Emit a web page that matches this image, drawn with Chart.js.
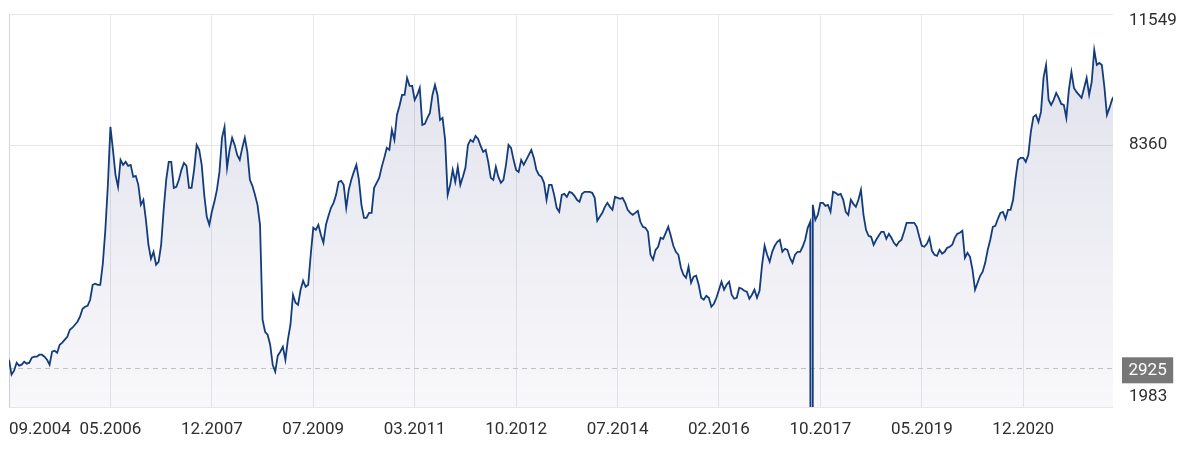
<!DOCTYPE html>
<html><head><meta charset="utf-8">
<script src="https://cdn.jsdelivr.net/npm/chart.js@4"></script>
<style>html,body{margin:0;padding:0;background:#fff;} #wrap{width:1186px;height:453px;position:relative;}</style>
</head><body><div id="wrap"><canvas id="c"></canvas></div>
<script>
// price series, one value per step along the time axis (09.2004 ... 2022)
const values = [
3134,2770,2867,3061,2989,3013,3086,3037,3062,3183,3207,3207,3256,3256,3207,3134,3013,3329,3353,3304,
3499,3548,3621,3694,3864,3913,3986,4058,4180,4375,4424,4448,4594,4958,4983,4958,4958,5469,6296,7390,
8801,8242,7634,7342,7999,7877,7950,7853,7877,7585,7609,7390,6904,7026,6539,5931,5591,5761,5445,5518,
5931,6783,7512,7950,7950,7317,7342,7512,7755,7925,7853,7317,7317,7755,8363,8242,7877,7147,6612,6418,
6734,6977,7269,7706,8533,8801,7804,8242,8534,8363,8120,7999,8290,8534,8193,7512,7366,7147,6904,6418,
4107,3815,3742,3499,3013,2843,3232,3329,3451,3134,3621,3986,4715,4521,4472,4837,5056,4910,4958,5688,
6345,6296,6418,6174,5980,6418,6637,6831,6953,7147,7463,7488,7390,6831,7269,7512,7706,7877,7512,6904,
6588,6588,6709,6709,7317,7439,7561,7828,8047,8290,8242,8728,8485,9093,9312,9579,9579,9993,9798,9798,
9458,9579,9750,8850,8874,9020,9141,9579,9822,9579,8971,9020,8485,7147,7390,7755,7463,7828,7390,7585,
7804,8363,8485,8436,8582,8509,8339,8193,8242,7950,7561,7512,7828,7585,7439,7512,7877,8363,8290,7999,
7755,7706,7999,7877,7999,8120,8242,8047,7755,7634,7585,7439,7026,7390,7390,7147,6831,6734,7147,7172,
7099,7220,7196,7123,7026,6977,7172,7220,7220,7220,7196,7074,6515,6612,6709,6855,6953,6855,6783,7099,
7074,7050,7074,6953,6783,6709,6661,6709,6758,6491,6369,6345,6248,5688,5567,5809,5883,6101,6077,6223,
6369,6150,5907,5761,5688,5372,5202,5129,5396,5007,5153,5177,4958,4642,4594,4691,4642,4424,4497,4642,
4837,5031,4837,4958,5031,4715,4618,4642,4886,4861,4813,4788,4618,4715,4837,4642,4813,5445,5907,5688,
5518,5761,5907,6004,6053,5761,5834,5809,5615,5493,5688,5761,5761,5883,6053,6345,6491,6904,6539,6661,
6953,6953,6880,6904,6734,7220,7196,7147,7172,7026,6734,6661,7026,6928,6855,7026,7269,6661,6296,6150,
6126,5931,6053,6150,6248,6248,6077,6199,6102,5980,5907,6004,6053,6248,6467,6467,6467,6467,6369,6126,
5907,5883,5956,6101,5785,5688,5664,5809,5713,5761,5858,5883,5931,6101,6199,6223,6272,5615,5737,5640,
5323,4837,5007,5177,5275,5493,5810,6053,6369,6393,6564,6709,6734,6564,6783,6783,7026,7561,7999,8047,
8047,7950,8120,8679,9044,9093,8922,9166,9993,10309,9458,9336,9458,9628,9506,9360,9336,9020,9701,10138,
9750,9652,9579,9506,9750,9993,9579,9895,10674,10309,10357,10309,9774,9093,9263,9458,9579
];
// two bad ticks (data error) in 10.2017
const badTickPos = [316.08, 316.92];
const badTickValues = [0, 0];

const xTickPos = [0,40,80,120,160,200,240,280,320,360,400,435.4];
const xTickLabels = ['09.2004','05.2006','12.2007','07.2009','03.2011','10.2012','07.2014','02.2016','10.2017','05.2019','12.2020',''];
const yTickValues = [1983, 8360, 11549];
const yMin = 1983, yMax = 11549, xMax = 435.4;
const refValue = 2925;

const points = values.map((v,i)=>({x:i,y:v}));
badTickPos.forEach((p,k)=>points.push({x:p,y:badTickValues[k]}));
points.sort((a,b)=>a.x-b.x);

const FONT = 'Roboto, "Noto Sans", sans-serif';

const refPlugin = {
  id:'ref',
  beforeDatasetsDraw(chart){
    const {ctx, chartArea:a, scales:{y}} = chart;
    const py = Math.round(y.getPixelForValue(refValue))+0.5;
    ctx.save(); ctx.strokeStyle='#c8c8c8'; ctx.lineWidth=1; ctx.setLineDash([5,4]);
    ctx.beginPath(); ctx.moveTo(a.left,py); ctx.lineTo(a.right,py); ctx.stroke(); ctx.restore();
  },
  afterDraw(chart){
    const {ctx, chartArea:a, scales:{y}} = chart;
    const py = y.getPixelForValue(refValue);
    ctx.save();
    ctx.font = '17px ' + FONT;
    const text = String(refValue);
    const w = ctx.measureText(text).width + 13;
    const bx = a.right + 9, bh = 26;
    ctx.fillStyle = '#777777';
    ctx.fillRect(bx, py - bh/2 + 2, w, bh);
    ctx.fillStyle='#ffffff'; ctx.textBaseline='middle'; ctx.textAlign='left';
    ctx.fillText(text, bx+6.5, py+2.5);
    ctx.restore();
  }
};

function fillGradient(context){
  const chart = context.chart; const a = chart.chartArea;
  if(!a) return 'rgba(40,50,120,0.08)';
  const g = chart.ctx.createLinearGradient(0, a.top, 0, a.bottom);
  g.addColorStop(0, 'rgba(40,45,120,0.15)');
  g.addColorStop(1, 'rgba(40,45,120,0.03)');
  return g;
}

new Chart(document.getElementById('c'), {
  type:'line',
  data:{ datasets:[{
    data: points,
    borderColor:'#133c7d',
    borderWidth:1.8,
    pointRadius:0,
    tension:0,
    fill:'start',
    backgroundColor: fillGradient
  }]},
  options:{
    responsive:true, maintainAspectRatio:false, animation:false,
    layout:{padding:{left:9, right:0, top:14, bottom:0}},
    plugins:{legend:{display:false}, tooltip:{enabled:false}},
    events:[],
    scales:{
      x:{
        type:'linear', min:0, max:xMax,
        afterBuildTicks(s){ s.ticks = xTickPos.map(v=>({value:v})); },
        afterFit(s){ s.height = 46; s.paddingLeft = 0; s.paddingRight = 0; },
        ticks:{ autoSkip:false, maxRotation:0, align:'inner', padding:13, color:'#2e2e2e',
          font:{family:FONT, size:17},
          callback:(v,i)=>xTickLabels[i] ?? '' },
        grid:{ drawTicks:false,
          color:(c)=> c.index===0 ? '#d4d4d4' : (c.index===xTickPos.length-1 ? 'rgba(0,0,0,0)' : '#e8e8ec') },
        border:{display:false}
      },
      y:{
        position:'right', min:yMin, max:yMax,
        afterBuildTicks(s){ s.ticks = yTickValues.map(v=>({value:v})); },
        afterFit(s){ s.width = 73; s.paddingTop = 0; s.paddingBottom = 0; },
        ticks:{ padding:16, color:'#2e2e2e',
          font:(c)=>{
            const v = c.tick ? c.tick.value : null;
            if(v===yMax) return {family:FONT, size:17, lineHeight:14/17};
            if(v===yMin) return {family:FONT, size:17, lineHeight:20/17};
            return {family:FONT, size:17};
          },
          callback:(v)=> v===yMax ? ['', String(v)] : (v===yMin ? [String(v), ''] : String(v)) },
        grid:{ drawTicks:false, color:'#e6e6e6' },
        border:{display:false}
      }
    }
  },
  plugins:[refPlugin]
});
</script>
</body></html>
